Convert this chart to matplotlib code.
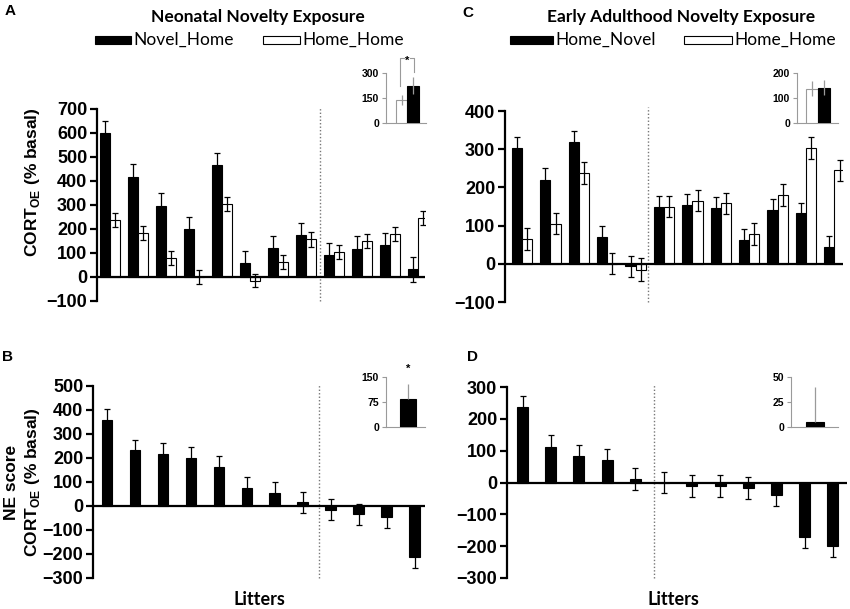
import matplotlib
matplotlib.use("Agg")
import matplotlib.pyplot as plt
from matplotlib.patches import Rectangle
import numpy as np

# ---------------- DATA ----------------
# Panel A: Neonatal novelty exposure, 12 litters
A_novel_home = [600, 415, 297, 200, 465, 58, 120, 175, 90, 117, 133, 32]
A_novel_home_err = [50, 55, 52, 52, 52, 52, 52, 52, 52, 52, 52, 52]
A_home_home = [237, 183, 78, 0, 303, -15, 63, 157, 105, 150, 180, 245]
A_home_home_err = [30, 30, 30, 28, 30, 28, 30, 30, 30, 30, 30, 30]
A_split = 8  # litters before dotted divider
A_inset_labels = ["Home_Home", "Novel_Home"]
A_inset_vals = [140, 225]
A_inset_err = [30, 50]

# Panel B: NE score (neonatal)
B_vals = [358, 232, 218, 202, 162, 75, 55, 15, -15, -35, -45, -213]
B_err = [45, 45, 45, 45, 45, 45, 45, 45, 45, 45, 47, 45]
B_split = 8
B_inset_val = [85]
B_inset_err = [45]

# Panel C: Early adulthood novelty exposure
C_home_novel = [303, 220, 320, 70, -7, 148, 153, 147, 62, 140, 132, 45]
C_home_novel_err = [30, 30, 28, 28, 28, 30, 30, 28, 28, 30, 28, 28]
C_home_home = [65, 105, 238, 0, -15, 150, 165, 158, 78, 180, 303, 245]
C_home_home_err = [28, 28, 28, 28, 30, 28, 28, 28, 30, 28, 28, 28]
C_split = 5
C_inset_labels = ["Home_Home", "Home_Novel"]
C_inset_vals = [138, 142]
C_inset_err = [30, 30]

# Panel D: NE score (early adulthood)
D_vals = [238, 113, 82, 70, 10, 0, -10, -12, -17, -40, -172, -200]
D_err = [35, 35, 35, 35, 35, 33, 34, 34, 34, 35, 35, 35]
D_split = 5
D_inset_val = [5]
D_inset_err = [35]

# ---------------- STYLE ----------------
W, H = 850, 609
fig = plt.figure(figsize=(W / 100, H / 100), dpi=100)
TICKFONT = "Liberation Sans"
TEXTFONT = "Lato"
GREY = "#9a9a9a"


def fax(x0, y0, x1, y1):
    """pixel box (x0 left, y0 top, x1 right, y1 bottom) -> axes"""
    return fig.add_axes([x0 / W, 1 - y1 / H, (x1 - x0) / W, (y1 - y0) / H])


def style_main(ax, ylim, step):
    ax.set_ylim(*ylim)
    ax.set_yticks(np.arange(ylim[0], ylim[1] + 1, step))
    for s in ["top", "right", "bottom"]:
        ax.spines[s].set_visible(False)
    ax.spines["left"].set_linewidth(1.6)
    ax.set_xticks([])
    ax.tick_params(axis="y", direction="out", length=5, width=1.6, pad=2,
                   labelsize=13)
    for lab in ax.get_yticklabels():
        lab.set_fontfamily(TICKFONT)
        lab.set_fontweight("bold")
    ax.axhline(0, color="black", lw=1.6, zorder=5)
    ax.patch.set_alpha(0)


def style_inset(ax, ylim, ticks):
    ax.set_ylim(*ylim)
    ax.set_yticks(ticks)
    for s in ["top", "right"]:
        ax.spines[s].set_visible(False)
    for s in ["left", "bottom"]:
        ax.spines[s].set_color(GREY)
        ax.spines[s].set_linewidth(0.8)
    ax.set_xticks([])
    ax.tick_params(axis="y", direction="out", length=3, width=0.8, pad=2,
                   labelsize=7.5, color=GREY)
    for lab in ax.get_yticklabels():
        lab.set_fontfamily(TICKFONT)
        lab.set_fontweight("bold")
    ax.patch.set_alpha(0)


def divider(ax, x, ylim):
    ax.plot([x, x], [ylim[0], ylim[1]], color="#777777", lw=1.0,
            ls=(0, (1, 1.5)), clip_on=False)


errkw = dict(ecolor="black", elinewidth=0.9, capsize=2, capthick=0.9)
ierrkw = dict(ecolor=GREY, elinewidth=0.9, capsize=0)

# ---------------- PANEL A ----------------
axA = fax(97, 109, 425, 301)
n = len(A_novel_home)
x = np.arange(n)
bw = 0.36
axA.bar(x - bw / 2, A_novel_home, bw, color="black", edgecolor="black",
        lw=0.8, yerr=A_novel_home_err, error_kw=errkw, zorder=3)
axA.bar(x + bw / 2, A_home_home, bw, color="white", edgecolor="black",
        lw=0.8, yerr=A_home_home_err, error_kw=errkw, zorder=3)
axA.set_xlim(-0.464, 11.25)
style_main(axA, (-100, 700), 100)
divider(axA, A_split - 0.5, (-100, 710))
axA.set_ylabel("CORT$_{\\mathregular{OE}}$ (% basal)", fontsize=12.5,
               fontweight="bold", fontfamily=TICKFONT)
axA.yaxis.set_label_coords(-0.168, 0.62)

# Inset A
iA = fax(386, 73, 426, 123)
ix = np.arange(2)
iA.bar(ix, A_inset_vals, 1.0, color=["white", "black"], edgecolor=[GREY, "black"],
       lw=0.8, yerr=A_inset_err, error_kw=ierrkw, zorder=3)
iA.set_xlim(-1.35, 2.1)
style_inset(iA, (0, 300), [0, 150, 300])
# significance bracket
bx = [ix[0] - 0.1, ix[0] - 0.1, ix[1] + 0.05, ix[1] + 0.05]
by = [A_inset_vals[0] + 85, 390, 390, A_inset_vals[1] + 80]
iA.plot(bx[:2] + [bx[0] + 0.3], by[:2] + [390], color=GREY, lw=0.8, clip_on=False)
iA.plot([bx[2] - 0.3] + bx[2:], [390] + by[2:], color=GREY, lw=0.8, clip_on=False)
iA.text((ix[0] + ix[1]) / 2 - 0.05, 352, "*", ha="center", va="baseline",
        fontsize=8, fontfamily=TICKFONT, fontweight="bold", clip_on=False)

# ---------------- PANEL C ----------------
axC = fax(505, 111, 843, 302)
axC.bar(x - bw / 2, C_home_novel, bw, color="black", edgecolor="black",
        lw=0.8, yerr=C_home_novel_err, error_kw=errkw, zorder=3)
axC.bar(x + bw / 2, C_home_home, bw, color="white", edgecolor="black",
        lw=0.8, yerr=C_home_home_err, error_kw=errkw, zorder=3)
axC.set_xlim(-0.6, 11.3)
style_main(axC, (-100, 400), 100)
divider(axC, C_split - 0.55, (-100, 410))

iC = fax(797, 73, 838, 123)
iC.bar(ix, C_inset_vals, 1.0, color=["white", "black"], edgecolor=[GREY, "black"],
       lw=0.8, yerr=C_inset_err, error_kw=ierrkw, zorder=3)
iC.set_xlim(-1.25, 2.17)
style_inset(iC, (0, 200), [0, 100, 200])

# ---------------- PANEL B ----------------
axB = fax(93, 386, 425, 578)
bwB = 0.39
axB.bar(x, B_vals, bwB, color="black", edgecolor="black", lw=0.8,
        yerr=B_err, error_kw=errkw, zorder=3)
axB.set_xlim(-0.5, 11.36)
style_main(axB, (-300, 500), 100)
divider(axB, B_split - 0.43, (-300, 510))
axB.set_ylabel("NE score\nCORT$_{\\mathregular{OE}}$ (% basal)", fontsize=12.5,
               fontweight="bold", fontfamily=TICKFONT, linespacing=1.25)
axB.yaxis.set_label_coords(-0.154, 0.5)
axB.set_xlabel("Litters", fontsize=13, fontweight="bold", fontfamily=TEXTFONT)
axB.xaxis.set_label_coords(0.5, -0.07)

iB = fax(386, 377, 425, 427)
iB.bar([0], B_inset_val, 1.0, color="black", edgecolor="black", lw=0.8,
       yerr=[[0], B_inset_err], error_kw=ierrkw, zorder=3)
iB.set_xlim(-1.375, 1.06)
style_inset(iB, (0, 150), [0, 75, 150])
iB.text(0, 165, "*", ha="center", va="baseline", fontsize=8,
        fontfamily=TICKFONT, fontweight="bold", clip_on=False)

# ---------------- PANEL D ----------------
axD = fax(507, 387, 847, 578)
axD.bar(x, D_vals, bwB, color="black", edgecolor="black", lw=0.8,
        yerr=D_err, error_kw=errkw, zorder=3)
axD.set_xlim(-0.55, 11.5)
style_main(axD, (-300, 300), 100)
divider(axD, D_split - 0.34, (-300, 310))
axD.set_xlabel("Litters", fontsize=13, fontweight="bold", fontfamily=TEXTFONT)
axD.xaxis.set_label_coords(0.49, -0.07)

iD = fax(791, 377, 838, 427)
iD.bar([0], D_inset_val, 1.0, color="black", edgecolor="black", lw=0.8,
       yerr=[[0], D_inset_err], error_kw=ierrkw, zorder=3)
iD.set_xlim(-1.33, 1.28)
style_inset(iD, (0, 50), [0, 25, 50])

# ---------------- TITLES / LEGENDS / LABELS ----------------
fig.text(258 / W, 1 - 17 / H, "Neonatal Novelty Exposure", ha="center",
         va="center", fontsize=12.5, fontweight="bold", fontfamily=TEXTFONT)
fig.text(681 / W, 1 - 17 / H, "Early Adulthood Novelty Exposure", ha="center",
         va="center", fontsize=12.5, fontweight="bold", fontfamily=TEXTFONT)


def legend_item(x0, x1, y, face, label):
    fig.add_artist(Rectangle((x0 / W, 1 - (y + 4) / H), (x1 - x0) / W, 8 / H,
                             transform=fig.transFigure, facecolor=face,
                             edgecolor="black", lw=0.8))
    fig.text((x1 + 2) / W, 1 - y / H, label, ha="left", va="center",
             fontsize=12.5, fontfamily=TEXTFONT)


legend_item(95, 131, 40, "black", "Novel_Home")
legend_item(263, 300, 40, "white", "Home_Home")
legend_item(510, 553, 40, "black", "Home_Novel")
legend_item(684, 732, 40, "white", "Home_Home")

for lx, ly, lt in [(10, 11, "A"), (468, 13, "C"), (8, 357, "B"), (472, 357, "D")]:
    fig.text(lx / W, 1 - ly / H, lt, ha="center", va="center", fontsize=11,
             fontweight="bold", fontfamily=TICKFONT)

fig.savefig("out.png", dpi=100)
